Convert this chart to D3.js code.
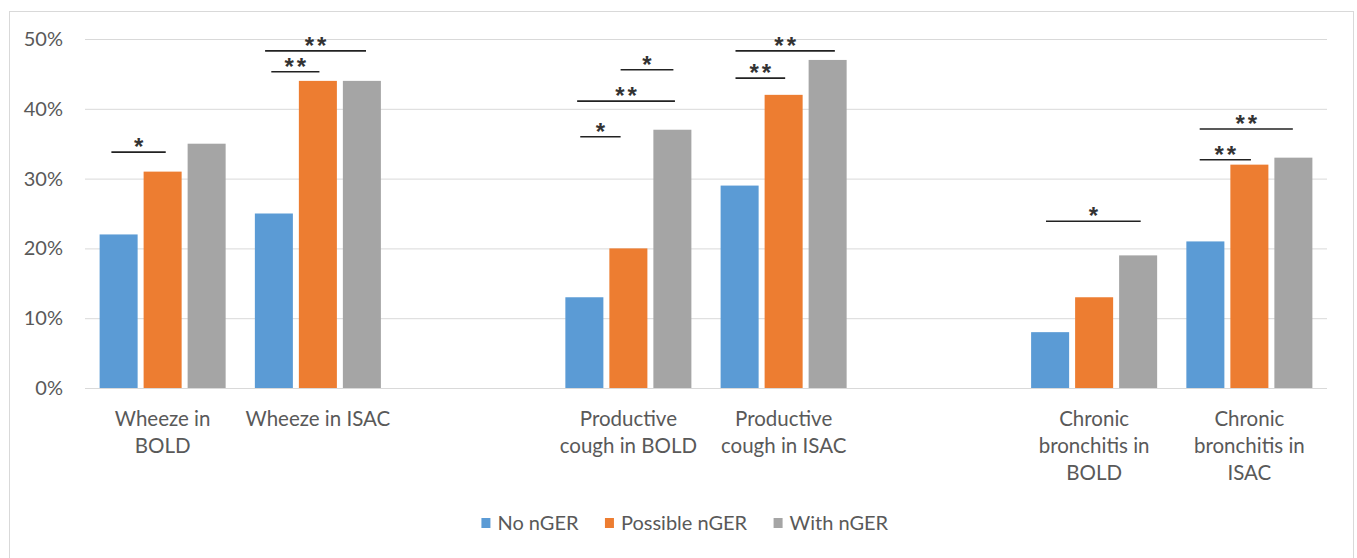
<!DOCTYPE html>
<html>
<head>
<meta charset="utf-8">
<title>nGER symptoms</title>
<script src="https://d3js.org/d3.v7.min.js"></script>
<style>
  body { margin: 0; background: #fff; }
  text { font-family: Lato, "Liberation Sans", sans-serif; }
</style>
</head>
<body>
<div id="my_dataviz"></div>
<script>
// categories (empty ones are the spacer columns of the original sheet)
const categories = ["Wheeze in BOLD", "Wheeze in ISAC", "", "Productive cough in BOLD",
                    "Productive cough in ISAC", "", "Chronic bronchitis in BOLD", "Chronic bronchitis in ISAC"];
const labelLines = [["Wheeze in", "BOLD"], ["Wheeze in ISAC"], [], ["Productive", "cough in BOLD"],
                    ["Productive", "cough in ISAC"], [], ["Chronic", "bronchitis in", "BOLD"], ["Chronic", "bronchitis in", "ISAC"]];
const seriesNames = ["No nGER", "Possible nGER", "With nGER"];
const noNGER       = [22, 25, null, 13, 29, null, 8, 21];
const possibleNGER = [31, 44, null, 20, 42, null, 13, 32];
const withNGER     = [35, 44, null, 37, 47, null, 19, 33];
const yTicks = [0, 10, 20, 30, 40, 50];
// significance brackets: [from, to] in category units, level in %, label
const sigFrom  = [0.17, 1.20, 1.16, 3.19, 3.17, 3.45, 4.19, 4.19, 6.19, 7.18, 7.18];
const sigTo    = [0.52, 1.51, 1.81, 3.45, 3.80, 3.79, 4.51, 4.83, 6.80, 7.51, 7.78];
const sigLevel = [33.8, 45.3, 48.3, 36.0, 41.1, 45.6, 44.4, 48.3, 23.9, 32.7, 37.1];
const sigLabel = ["*", "**", "**", "*", "**", "*", "**", "**", "*", "**", "**"];

const colors = ["#5B9BD5", "#ED7D31", "#A5A5A5"];

const W = 1357, H = 558;
const margin = {top: 39, right: 30, bottom: 170, left: 85},
      width = W - margin.left - margin.right,
      height = H - margin.top - margin.bottom;

const root = d3.select("#my_dataviz").append("svg")
  .attr("width", W).attr("height", H);

// chart frame
root.append("rect")
  .attr("x", 9.5).attr("y", 11.5)
  .attr("width", 1344).attr("height", 600)
  .attr("fill", "none").attr("stroke", "#d9d9d9");

const svg = root.append("g")
  .attr("transform", `translate(${margin.left},${margin.top})`);

const y = d3.scaleLinear().domain([0, 50]).range([height, 0]);
const x0 = d3.scaleBand().domain(d3.range(categories.length)).range([0, width]);
const x1 = d3.scaleBand().domain(seriesNames).range([0, x0.bandwidth()])
  .paddingInner(0.136).paddingOuter(0.332);
const xPos = d3.scaleLinear().domain([0, categories.length]).range([0, width]);

// Y axis with gridlines
const yAxis = svg.append("g")
  .call(d3.axisLeft(y).tickValues(yTicks).tickFormat(d => d + "%")
        .tickSize(-width).tickPadding(22));
yAxis.select(".domain").remove();
yAxis.selectAll(".tick line").attr("stroke", "#d9d9d9");
yAxis.selectAll(".tick text")
  .style("font-size", "20px").attr("fill", "#595959")
  .style("font-family", "Lato, sans-serif");

// Bars
const allSeries = [noNGER, possibleNGER, withNGER];
const rows = [];
categories.forEach((c, i) => {
  seriesNames.forEach((s, k) => {
    if (allSeries[k][i] != null) rows.push({i: i, s: s, k: k, v: allSeries[k][i]});
  });
});
svg.selectAll("rect.bar")
  .data(rows)
  .join("rect")
    .attr("class", "bar")
    .attr("x", d => x0(d.i) + x1(d.s))
    .attr("width", x1.bandwidth())
    .attr("y", d => y(d.v))
    .attr("height", d => height - y(d.v))
    .attr("fill", d => colors[d.k]);

// category labels
const lab = svg.selectAll("text.cat")
  .data(labelLines)
  .join("text")
    .attr("class", "cat")
    .attr("text-anchor", "middle")
    .attr("fill", "#595959")
    .style("font-size", "20.5px")
    .attr("transform", (d, i) => `translate(${x0(i) + x0.bandwidth() / 2},${height + 38})`);
lab.selectAll("tspan")
  .data(d => d)
  .join("tspan")
    .attr("x", 0)
    .attr("y", (d, j) => j * 27)
    .text(d => d);

// significance brackets
const sig = svg.selectAll("g.sig")
  .data(sigLabel.map((l, i) => ({l: l, a: sigFrom[i], b: sigTo[i], v: sigLevel[i]})))
  .join("g").attr("class", "sig");
sig.append("line")
  .attr("x1", d => xPos(d.a)).attr("x2", d => xPos(d.b))
  .attr("y1", d => y(d.v)).attr("y2", d => y(d.v))
  .attr("stroke", "#222").attr("stroke-width", 1.6);
sig.append("text")
  .attr("x", d => (xPos(d.a) + xPos(d.b)) / 2 + 1.5)
  .attr("y", d => y(d.v) + 3)
  .attr("text-anchor", "middle")
  .attr("fill", "#333")
  .style("font-size", "24px")
  .style("font-weight", "bold")
  .style("letter-spacing", "3px")
  .style("font-family", "'Liberation Sans', sans-serif")
  .text(d => d.l);

// legend
const legend = root.append("g").attr("transform", "translate(0,523)");
const items = legend.selectAll("g")
  .data(seriesNames)
  .join("g");
items.append("rect")
  .attr("y", -5).attr("width", 9).attr("height", 10)
  .attr("fill", (d, i) => colors[i]);
items.append("text")
  .attr("x", 16).attr("dy", "0.35em")
  .attr("fill", "#595959")
  .style("font-size", "20px")
  .text(d => d);
let cx = 0;
const offs = [];
items.each(function() {
  offs.push(cx);
  cx += this.getBBox().width + 26;
});
const total = cx - 26;
const startX = 685 - total / 2;
items.attr("transform", (d, i) => `translate(${startX + offs[i]},0)`);
</script>
</body>
</html>
